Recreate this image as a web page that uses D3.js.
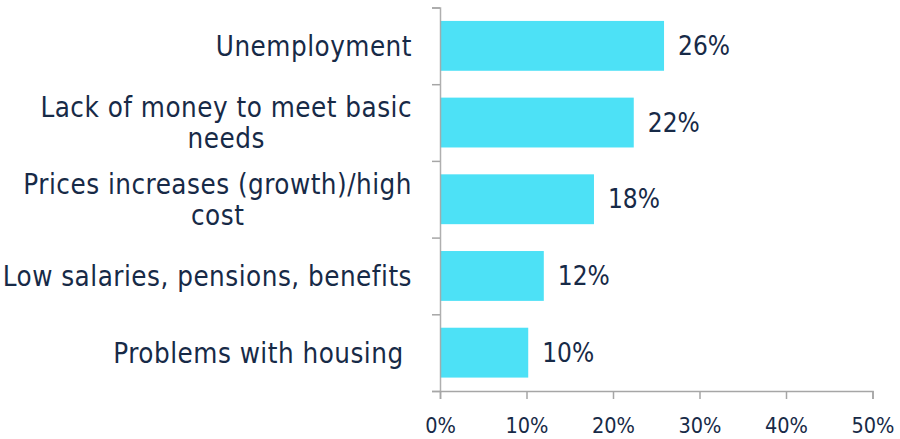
<!DOCTYPE html>
<html>
<head>
<meta charset="utf-8">
<script src="https://cdn.jsdelivr.net/npm/d3@7"></script>
<style>
  html, body { margin: 0; padding: 0; background: #ffffff; }
  svg { display: block; }
  text { font-family: "DejaVu Sans Condensed", "DejaVu Sans", sans-serif; font-stretch: condensed; fill: #172a47; }
</style>
</head>
<body>
<svg id="chart" width="900" height="439"></svg>
<script>
const categories = [
  ["Unemployment"],
  ["Lack of money to meet basic", "needs"],
  ["Prices increases (growth)/high", "cost"],
  ["Low salaries, pensions, benefits"],
  ["Problems with housing "]
];
const values = [0.259, 0.224, 0.178, 0.120, 0.102];
const valueLabels = ["26%", "22%", "18%", "12%", "10%"];
const xTicks = [0, 0.1, 0.2, 0.3, 0.4, 0.5];

const svg = d3.select("#chart");
const keys = categories.map((c, i) => "c" + i);

const x = d3.scaleLinear().domain([0, 0.5]).range([440, 872.5]);
const y = d3.scaleBand().domain(keys).range([7.5, 391]).paddingInner(0.35).paddingOuter(0.175);

// bars
svg.append("g").selectAll("rect")
  .data(values)
  .join("rect")
  .attr("x", x(0))
  .attr("y", (d, i) => y(keys[i]))
  .attr("width", d => x(d) - x(0))
  .attr("height", y.bandwidth())
  .attr("fill", "#4de1f6");

// x axis
const xAxis = d3.axisBottom(x).tickValues(xTicks).tickFormat(d3.format(".0%")).tickSize(8).tickPadding(19);
const gx = svg.append("g").attr("transform", "translate(0,391)").call(xAxis);
gx.select(".domain").attr("stroke", "#a6a6a6").attr("stroke-width", 1.5);
gx.selectAll(".tick line").attr("stroke", "#a6a6a6").attr("stroke-width", 1.5);
gx.selectAll(".tick text").attr("font-size", 21.5).attr("fill", "#172a47")
  .style("font-family", '"DejaVu Sans Condensed", "DejaVu Sans", sans-serif');

// y axis line with ticks at band boundaries
const yAxisScale = d3.scaleLinear().domain([0, keys.length]).range([7.5, 391]);
const gy = svg.append("g").attr("transform", "translate(440,0)")
  .call(d3.axisLeft(yAxisScale).tickValues(d3.range(keys.length + 1)).tickSize(8).tickFormat(""));
gy.select(".domain").attr("stroke", "#a6a6a6").attr("stroke-width", 1.5).attr("stroke-opacity", 0.9);
gy.selectAll(".tick line").attr("stroke", "#a6a6a6").attr("stroke-width", 1.5);

// category labels (multi-line, centred block, right aligned to axis)
const catFont = 27.5;
const lineH = 31;
const rightEdge = 412;
categories.forEach((lines, i) => {
  const cy = y(keys[i]) + y.bandwidth() / 2;
  const g = svg.append("g");
  const texts = lines.map((ln, j) => g.append("text")
    .attr("font-size", catFont)
    .style("white-space", "pre")
    .style("letter-spacing", "0.5px")
    .attr("text-anchor", "middle")
    .attr("dominant-baseline", "central")
    .attr("y", cy + (j - (lines.length - 1) / 2) * lineH)
    .text(ln));
  const maxW = d3.max(texts, t => t.node().getComputedTextLength());
  texts.forEach(t => t.attr("x", rightEdge - maxW / 2));
});

// value labels
svg.append("g").selectAll("text")
  .data(values)
  .join("text")
  .attr("x", d => x(d) + 14)
  .attr("y", (d, i) => y(keys[i]) + y.bandwidth() / 2)
  .attr("dominant-baseline", "central")
  .attr("font-size", 26)
  .text((d, i) => valueLabels[i]);
</script>
</body>
</html>
